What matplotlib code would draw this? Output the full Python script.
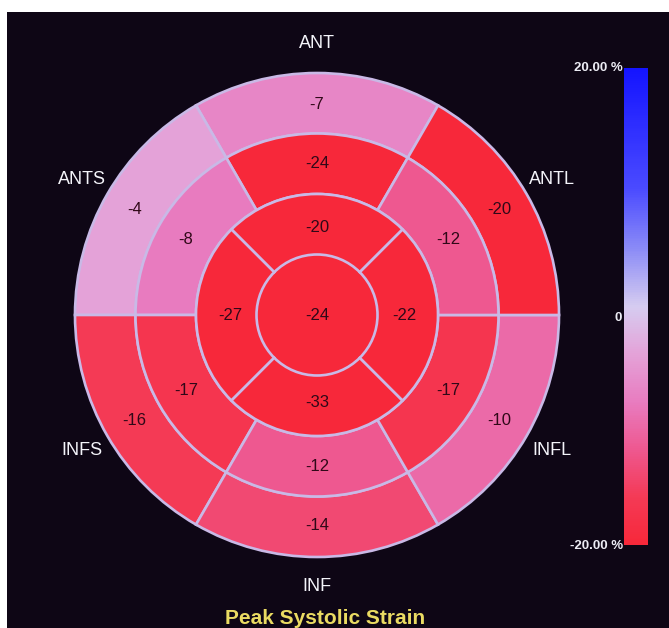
import numpy as np
import matplotlib
matplotlib.use("Agg")
import matplotlib.pyplot as plt
from matplotlib.colors import LinearSegmentedColormap, Normalize
from matplotlib.patches import Rectangle
import matplotlib.cm as cm

# ---- data ----
segment_names = ["ANT", "ANTS", "INFS", "INF", "INFL", "ANTL"]
basal_values = [-7, -4, -16, -14, -10, -20]
mid_values = [-24, -8, -17, -12, -17, -12]
apical_names = ["ANT", "SEPT", "INF", "LAT"]
apical_values = [-20, -27, -33, -22]
apex_value = -24
vmin, vmax = -20, 20
cbar_labels = ["20.00 %", "0", "-20.00 %"]
title = "Peak Systolic Strain"

# ---- colours ----
bg = "#0e0615"
edge = "#c9b9e6"
cmap = LinearSegmentedColormap.from_list(
    "strain",
    [(0.0, "#f7283a"), (0.1, "#f43a56"), (0.2, "#ee5890"), (0.3, "#e87cc0"),
     (0.4, "#e4a2d8"), (0.5, "#d6ccf0"), (0.62, "#8c8cf6"), (0.75, "#4a4aff"),
     (1.0, "#1414ff")])
norm = Normalize(vmin, vmax)

W, H = 669, 628
fig = plt.figure(figsize=(W / 100, H / 100), dpi=100, facecolor="white")
fig.add_artist(Rectangle((7 / W, 0), 1, (H - 12) / H, transform=fig.transFigure,
                         facecolor=bg, edgecolor="none", zorder=-10))

# bull's-eye in polar axes, centre (317,315) px, radius 242 px
cx, cy, R = 317, 315, 242
ax = fig.add_axes([(cx - R) / W, (H - cy - R) / H, 2 * R / W, 2 * R / H],
                  projection="polar")
ax.set_ylim(0, 1)
ax.axis("off")

lw = 1.9
txt_col = "#300818"
six_centres = np.deg2rad([90, 150, 210, 270, 330, 30])
four_centres = np.deg2rad([90, 180, 270, 0])

# apex (no edge, the apical ring draws its inner circle)
ax.bar(0, 0.25, width=2 * np.pi, bottom=0, color=cmap(norm(apex_value)),
       edgecolor="none", linewidth=0)
ax.text(0, 0, f"{apex_value:d}", ha="center", va="center", fontsize=12,
        color=txt_col, family="Liberation Sans")

def ring(centres, width, bottom, height, values, rlab):
    for th, v in zip(centres, values):
        ax.bar(th, height, width=width, bottom=bottom,
               color=cmap(norm(v)), edgecolor=edge, linewidth=lw, clip_on=False)
        ax.text(th, rlab, f"{v:d}", ha="center", va="center", fontsize=12,
                color=txt_col, family="Liberation Sans")

ring(six_centres, np.deg2rad(60), 0.75, 0.25, basal_values, 0.87)
ring(six_centres, np.deg2rad(60), 0.5, 0.25, mid_values, 0.625)
ring(four_centres, np.deg2rad(90), 0.25, 0.25, apical_values, 0.36)

for th, name in zip(six_centres, segment_names):
    ax.text(th, 1.12, name, ha="center", va="center", fontsize=13,
            color="#f4f4fa", family="Liberation Sans", clip_on=False)

# colour bar
cax = fig.add_axes([624 / W, (H - 545) / H, 24 / W, 477 / H])
cb = fig.colorbar(cm.ScalarMappable(norm=norm, cmap=cmap), cax=cax)
cb.outline.set_visible(False)
cax.set_yticks([])
lab_kw = dict(ha="right", va="center", fontsize=9.5, fontweight="bold",
              color="#ececf4", family="Liberation Sans")
fig.text(623 / W, (H - 68) / H, cbar_labels[0], **lab_kw)
fig.text(622 / W, (H - 318) / H, cbar_labels[1], **lab_kw)
fig.text(623 / W, (H - 546) / H, cbar_labels[2], **lab_kw)

fig.text(325 / W, (H - 619) / H, title, ha="center", va="center",
         fontsize=15, fontweight="bold", color="#eadb62", family="Liberation Sans")

fig.savefig("out.png", dpi=100, facecolor=fig.get_facecolor())
